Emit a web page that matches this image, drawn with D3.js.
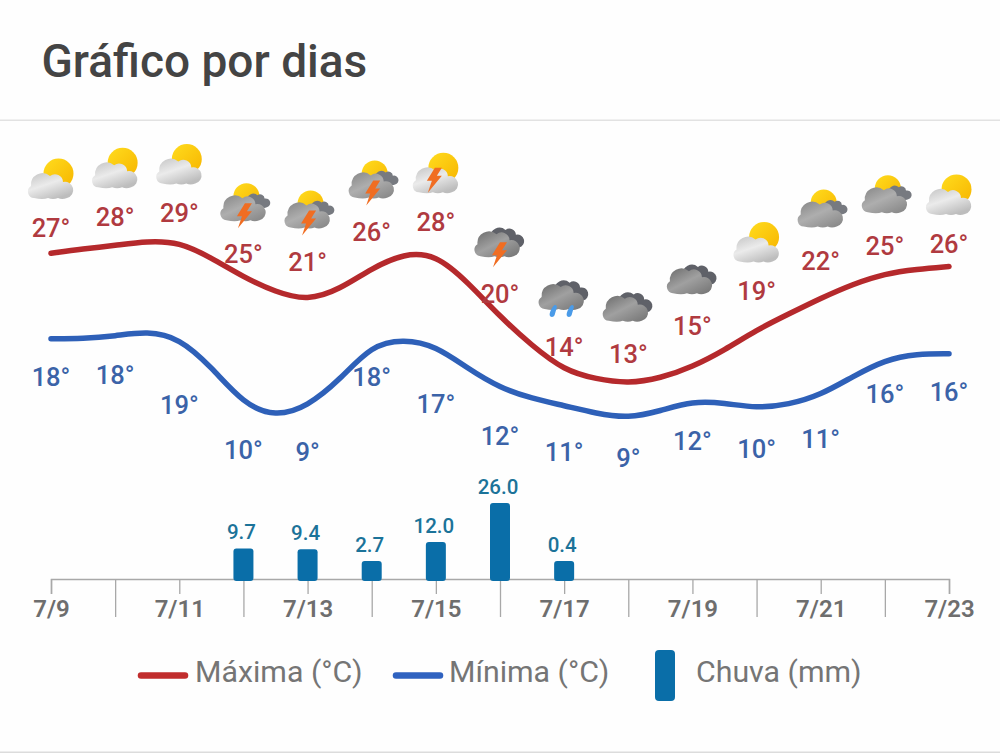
<!DOCTYPE html>
<html>
<head>
<meta charset="utf-8">
<script src="https://cdn.jsdelivr.net/npm/d3@7"></script>
<style>
html, body { margin: 0; background: #fefefe; }
svg { display: block; font-family: Roboto, sans-serif; }
</style>
</head>
<body>
<div id="chart"></div>
<script>
var dayLabels = ["7/9","7/10","7/11","7/12","7/13","7/14","7/15","7/16","7/17","7/18","7/19","7/20","7/21","7/22","7/23"];
var maxTemps = [27,28,29,25,21,26,28,20,14,13,15,19,22,25,26];
var minTemps = [18,18,19,10,9,18,17,12,11,9,12,10,11,16,16];
var rain = [null,null,null,9.7,9.4,2.7,12.0,26.0,0.4,null,null,null,null,null,null];
var weather = ["sun","sun","sun","sunstorm","sunstorm","sunstorm","sunbolt","storm","rain","cloud","cloud","sun","suncloud","suncloud","sun"];

// the drawn curves are smoothed and do not pass through the labels, so read per half day
var curveDays = [0,0.5,1,1.5,2,2.5,3,3.5,4,4.5,5,5.5,6,6.5,7,7.5,8,8.5,9,9.5,10,10.5,11,11.5,12,12.5,13,13.5,14];
var maxCurve = [27.6,28.1,28.5,29.0,28.9,27.1,24.9,23.2,22.2,23.5,25.9,27.6,27.5,24.3,20.4,17.1,14.3,13.3,12.8,13.4,14.7,16.6,18.9,20.7,22.5,24.1,25.3,25.8,26.1];
var minCurve = [17.9,17.9,18.2,18.75,18.0,14.7,10.5,9.0,10.2,13.2,17.2,17.85,17.1,14.5,12.3,11.1,10.3,9.4,8.85,9.7,10.8,10.6,10.0,10.4,11.5,13.6,15.5,16.2,16.2];

// label placement, px away from the temperature's own height
var maxLabelShift = [-31,-33,-28,-22,-50,-36,-28,-26,-26,-28,-38,-38,-42,-30,-24];
var minLabelShift = [39,37,76,42,35,39,57,45,52,41,50,41,39,38,36];

var legendItems = ["Máxima (°C)", "Mínima (°C)", "Chuva (mm)"];

var width = 1000, height = 753;
var axisY = 579;

var svg = d3.select("#chart").append("svg")
  .attr("width", width)
  .attr("height", height)
  .attr("viewBox", "0 0 " + width + " " + height);

var x = d3.scaleLinear().domain([0, 14]).range([51, 949]);
var y = d3.scaleLinear().domain([13, 29]).range([381.8, 241]);
var rainY = d3.scaleLinear().domain([-1.25, 26]).range([axisY, 503]);

var defs = svg.append("defs");

function gradient(id, stops, x2, y2) {
  var g = defs.append("linearGradient").attr("id", id)
    .attr("x1", 0).attr("y1", 0).attr("x2", x2).attr("y2", y2);
  stops.forEach(function(s, i) {
    g.append("stop").attr("offset", i / (stops.length - 1)).attr("stop-color", s);
  });
}
gradient("lightCloud", ["#c4c4c4", "#ebebeb", "#bdbdbd"], 0.6, 1);
gradient("greyCloud", ["#858585", "#aeaeae", "#8a8a8a"], 0.8, 1);
gradient("darkCloud", ["#6a6a6a", "#a0a0a0", "#767676"], 0.9, 1);
gradient("sunFill", ["#ffdc1e", "#f7b500"], 1, 1);

var cloudPath = "M-16 13A6.5 6.5 0 0 1-19 1A11.5 11.5 0 0 1 0-9A8 8 0 0 1 13-3A8 8 0 0 1 17 13Q12 15 8 13Q3 15-2 13Q-7 15-16 13Z";
var boltPath = "M0-14L7-14L2-6L7-6L-7 11L-3-1L-8-1Z";
var dropPath = "M2-7C3.5-7 4-5.5 3.5-4L1.5 3C.5 6-4 5.5-3.5 2C-3-1 0-7 2-7Z";

function cloud(g, fill, dx, dy, k) {
  g.append("path").attr("d", cloudPath).attr("fill", fill)
    .attr("transform", "translate(" + dx + "," + dy + ") scale(" + k + ")");
}
function bolt(g, dx, dy) {
  g.append("path").attr("d", boltPath).attr("fill", "#f06d22")
    .attr("transform", "translate(" + dx + "," + dy + ")");
}
function sun(g, dx, dy, r) {
  g.append("circle").attr("cx", dx).attr("cy", dy).attr("r", r).attr("fill", "url(#sunFill)");
}

function drawIcon(g, type) {
  if (type == "sun" || type == "sunbolt") {
    sun(g, 7.5, -5, 15);
    cloud(g, "url(#lightCloud)", -1, 6.5, 1);
    if (type == "sunbolt") bolt(g, -1, 9);
  } else if (type == "sunstorm" || type == "suncloud") {
    sun(g, 3, -9, 13);
    cloud(g, "#777a80", 14, -5, 0.55);
    cloud(g, "url(#greyCloud)", -1, 2, 1);
    if (type == "sunstorm") bolt(g, 1.5, 12);
  } else {
    var dy = type == "cloud" ? 5 : 0;
    cloud(g, "#5f6168", 5.5, dy - 8, 0.8);
    cloud(g, "url(#darkCloud)", -3.5, dy - 2, 1);
    if (type == "storm") bolt(g, 0, 11);
    if (type == "rain") {
      g.append("path").attr("d", dropPath).attr("fill", "#4a9be8").attr("transform", "translate(-11,14)");
      g.append("path").attr("d", dropPath).attr("fill", "#4a9be8").attr("transform", "translate(6,14)");
    }
  }
}

// title
svg.append("text").attr("x", 41.5).attr("y", 76.5)
  .attr("font-size", 46).attr("font-weight", 500).attr("fill", "#444444")
  .text("Gráfico por dias");
svg.append("rect").attr("x", 0).attr("y", 119.5).attr("width", width).attr("height", 1.5).attr("fill", "#e2e2e2");
svg.append("rect").attr("x", 0).attr("y", 751.5).attr("width", width).attr("height", 1.5).attr("fill", "#dcdcdc");

// axis
var axis = svg.append("g")
  .attr("transform", "translate(0," + axisY + ")")
  .call(d3.axisBottom(x)
    .tickValues(d3.range(dayLabels.length))
    .tickSize(15)
    .tickFormat(function(d) { return d % 2 == 0 ? dayLabels[d] : ""; }));
axis.select(".domain").attr("stroke", "#a8a8a8").attr("stroke-width", 1.5);
axis.selectAll(".tick line")
  .attr("stroke", "#a8a8a8").attr("stroke-width", 1.3)
  .attr("y2", function(d) { return d % 2 == 0 ? 15 : 38; });
axis.selectAll(".tick text")
  .attr("y", 37.5).attr("dy", null)
  .attr("font-family", "Roboto, sans-serif")
  .attr("font-size", 24).attr("font-weight", 600).attr("fill", "#6e6e6e");

// rain bars
var rainDays = rain.map(function(v, i) { return {day: i, value: v}; })
  .filter(function(d) { return d.value !== null; });
function barTop(d) { return Math.min(rainY(d.value), axisY - 18); }

svg.selectAll(".bar").data(rainDays).enter().append("rect")
  .attr("class", "bar")
  .attr("x", function(d) { return x(d.day) - 10; })
  .attr("y", barTop)
  .attr("width", 20)
  .attr("height", function(d) { return axisY + 2 - barTop(d); })
  .attr("rx", 3)
  .attr("fill", "#0a6ea8");
svg.selectAll(".barlabel").data(rainDays).enter().append("text")
  .attr("class", "barlabel")
  .attr("x", function(d) { return x(d.day) - 2; })
  .attr("y", function(d) { return barTop(d) - 9.5; })
  .attr("text-anchor", "middle")
  .attr("font-size", 20.5).attr("font-weight", 500).attr("fill", "#1b7399")
  .text(function(d) { return d.value.toFixed(1); });

// temperature curves
var line = d3.line()
  .x(function(d) { return x(d[0]); })
  .y(function(d) { return y(d[1]); })
  .curve(d3.curveBasis);

function drawCurve(values, color) {
  svg.append("path")
    .attr("d", line(curveDays.map(function(d, i) { return [d, values[i]]; })))
    .attr("fill", "none")
    .attr("stroke", color)
    .attr("stroke-width", 5.5)
    .attr("stroke-linecap", "round");
}
drawCurve(maxCurve, "#b5292c");
drawCurve(minCurve, "#2e60b8");

// weather icons sit above the max labels
svg.selectAll(".icon").data(weather).enter().append("g")
  .attr("class", "icon")
  .attr("transform", function(d, i) {
    return "translate(" + x(i) + "," + (y(maxTemps[i]) + maxLabelShift[i] - 49) + ")";
  })
  .each(function(d) { drawIcon(d3.select(this), d); });

function drawLabels(values, shifts, color) {
  svg.append("g").selectAll("text").data(values).enter().append("text")
    .attr("x", function(d, i) { return x(i); })
    .attr("y", function(d, i) { return y(d) + shifts[i]; })
    .attr("dy", "0.36em")
    .attr("text-anchor", "middle")
    .attr("font-size", 25.5).attr("font-weight", 500).attr("fill", color)
    .text(function(d) { return d + "°"; });
}
drawLabels(maxTemps, maxLabelShift, "#b03a40");
drawLabels(minTemps, minLabelShift, "#3b63a8");

// legend
var legendText = svg.append("g")
  .attr("font-size", 30.3).attr("fill", "#757575");
legendText.append("text").attr("x", 195).attr("y", 682).text(legendItems[0]);
legendText.append("text").attr("x", 449).attr("y", 682).text(legendItems[1]);
legendText.append("text").attr("x", 696).attr("y", 682).text(legendItems[2]);

svg.append("line").attr("x1", 141).attr("x2", 185).attr("y1", 675.5).attr("y2", 675.5)
  .attr("stroke", "#c12d2d").attr("stroke-width", 6.5).attr("stroke-linecap", "round");
svg.append("line").attr("x1", 396).attr("x2", 440).attr("y1", 675.5).attr("y2", 675.5)
  .attr("stroke", "#2f62c0").attr("stroke-width", 6.5).attr("stroke-linecap", "round");
svg.append("rect").attr("x", 655).attr("y", 650).attr("width", 20).attr("height", 51)
  .attr("rx", 4).attr("fill", "#0a6ea8");
</script>
</body>
</html>
